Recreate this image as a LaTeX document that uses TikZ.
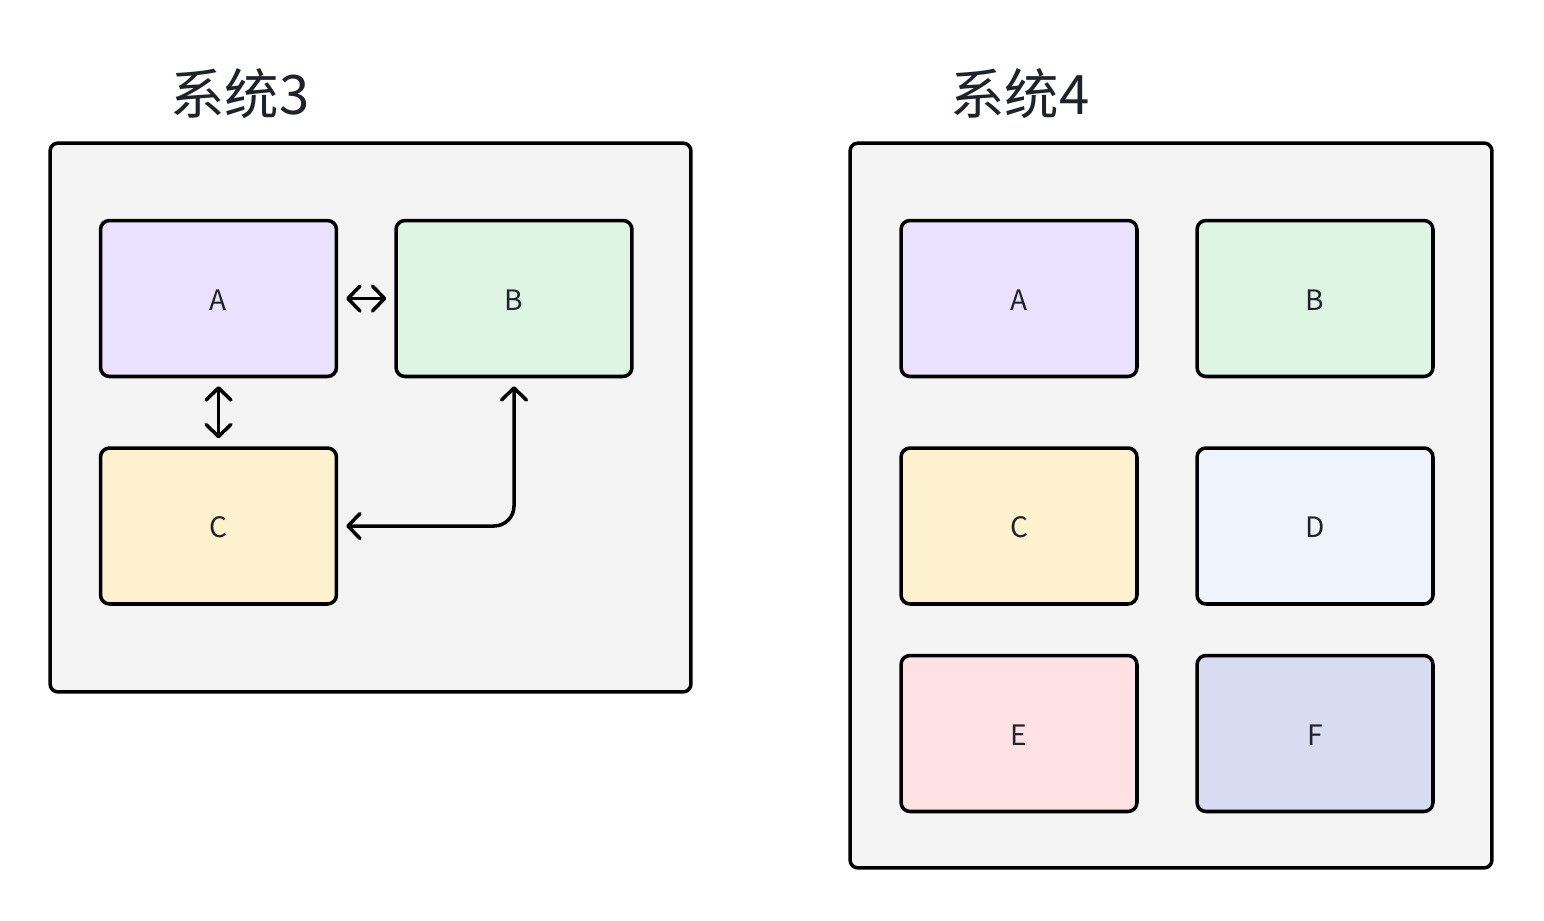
\documentclass[tikz,border=0pt]{standalone}
\usepackage{fontspec}
\setmainfont{Noto Sans CJK SC}
\usetikzlibrary{arrows.meta}
\definecolor{panel}{HTML}{F4F4F4}
\definecolor{lila}{HTML}{E9E1FD}
\definecolor{gruen}{HTML}{DEF5E4}
\definecolor{gelb}{HTML}{FEF1CD}
\definecolor{hblau}{HTML}{EEF3FC}
\definecolor{rosa}{HTML}{FEE2E3}
\definecolor{dblau}{HTML}{D8DCF3}
\definecolor{schrift}{HTML}{1F2329}

\begin{document}
\begin{tikzpicture}[x=0.02cm, y=-0.02cm,
		container/.style={draw=black, line width=2pt, fill=panel, rounded corners=0.16cm, inner sep=0pt},
		block/.style={draw=black, line width=2pt, rounded corners=0.18cm, minimum width=4.72cm, minimum height=3.12cm, inner sep=0pt, text height=0.47cm, text depth=0pt, text=schrift, font=\fontsize{16}{18}\selectfont},
		titel/.style={text=schrift, font=\fontsize{31}{36}\selectfont, inner sep=0pt},
		pfeil/.style={line width=2pt, line cap=round, {Straight Barb[length=0.24cm, width=0.5cm, line cap=round, line join=round]}-{Straight Barb[length=0.24cm, width=0.5cm, line cap=round, line join=round]}, shorten <=0.16cm, shorten >=0.16cm}]
			\useasboundingbox (0,0) rectangle (1544,920);
			\def\links{218.5}
			\def\rechts{514}
			\def\linksb{1019}
			\def\rechtsb{1315}
			\def\oben{298.5}
			\def\mitte{526}
			\def\unten{733.5}
			% System 3
			\node[titel] (t3) at (240,94) {系统3};
			\node[container, minimum width=12.82cm, minimum height=10.98cm] (sys3) at (370.5,417.5) {};
			\node[block, fill=lila] (a3) at (\links,\oben) {A};
			\node[block, fill=gruen] (b3) at (\rechts,\oben) {B};
			\node[block, fill=gelb] (c3) at (\links,\mitte) {C};
			\draw[pfeil] (a3.east) -- (b3.west);
			\draw[pfeil] (a3.south) -- (c3.north);
			\draw[pfeil, rounded corners=0.4cm] (b3.south) |- (c3.east);
			% System 4
			\node[titel] (t4) at (1020,94) {系统4};
			\node[container, minimum width=12.84cm, minimum height=14.5cm] (sys4) at (1171,505.5) {};
			\node[block, fill=lila] (a4) at (\linksb,\oben) {A};
			\node[block, fill=gruen] (b4) at (\rechtsb,\oben) {B};
			\node[block, fill=gelb] (c4) at (\linksb,\mitte) {C};
			\node[block, fill=hblau] (d4) at (\rechtsb,\mitte) {D};
			\node[block, fill=rosa] (e4) at (\linksb,\unten) {E};
			\node[block, fill=dblau] (f4) at (\rechtsb,\unten) {F};
		\end{tikzpicture}
\end{document}
